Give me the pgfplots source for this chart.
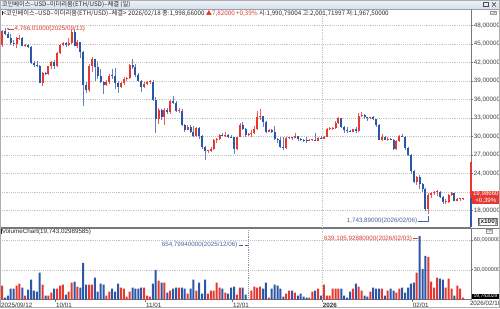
\documentclass[border=0pt]{standalone}
\usepackage{fontspec}
\setmainfont{Liberation Sans}
\newfontfamily\kr{Noto Sans CJK KR}
\usepackage{pgfplots}
\pgfplotsset{compat=1.18}
\usepackage{pgfplotstable}
\usetikzlibrary{arrows.meta}
\definecolor{cred}{RGB}{228,56,48}
\definecolor{cblue}{RGB}{44,86,166}
\definecolor{tred}{RGB}{214,62,52}
\definecolor{tblue}{RGB}{70,100,160}
\definecolor{gridc}{RGB}{195,195,195}
\definecolor{axc}{RGB}{120,120,120}
\definecolor{barA}{RGB}{240,244,250}
\definecolor{barB}{RGB}{212,223,238}
\newcommand\tf{\fontsize{4.7}{5.2}\selectfont}

\pgfplotstableread{
d o h l c v
0 4480 4730 4450 4715 14
1 4715 4766 4640 4668 2
2 4668 4700 4590 4604 4
3 4604 4660 4490 4523 11
4 4523 4560 4470 4499 11
5 4499 4620 4440 4590 14
6 4590 4640 4570 4600 16
7 4600 4610 4460 4470 12
8 4470 4500 4455 4480 4
9 4480 4495 4440 4450 10
10 4450 4460 4180 4200 20
11 4200 4230 4130 4165 9
12 4165 4230 4120 4150 8
13 4150 4160 3860 3870 27
14 3870 4040 3820 4030 15
15 4030 4040 3990 4015 4
16 4015 4150 4000 4140 4
17 4140 4230 4100 4215 7
18 4215 4240 4100 4145 11
19 4145 4370 4130 4350 11
20 4350 4500 4330 4485 14
21 4485 4540 4460 4515 15
22 4515 4530 4450 4480 5
23 4480 4600 4470 4515 8
24 4515 4750 4500 4690 17
25 4690 4750 4460 4460 18
26 4460 4560 4440 4525 13
27 4525 4530 4280 4370 12
28 4370 4390 3500 3830 37
29 3830 3880 3700 3750 15
30 3750 4170 3720 4150 15
31 4150 4290 4050 4250 15
32 4250 4260 3900 4125 22
33 4125 4220 3940 3980 8
34 3980 4090 3860 3890 16
35 3890 3900 3690 3835 15
36 3835 3910 3820 3890 4
37 3890 4020 3850 3985 8
38 3985 4090 3930 3980 11
39 3980 4110 3770 3875 8
40 3875 3900 3710 3805 16
41 3805 3880 3780 3860 12
42 3860 3960 3840 3935 11
43 3935 3960 3900 3950 3
44 3950 4170 3930 4160 8
45 4160 4250 4100 4120 12
46 4120 4170 3960 3990 11
47 3990 4030 3880 3900 11
48 3900 3920 3720 3810 12
49 3810 3890 3790 3850 12
50 3850 3900 3830 3880 4
51 3880 3920 3850 3890 3
52 3890 3910 3580 3600 16
53 3600 3640 3060 3290 30
54 3290 3460 3200 3430 19
55 3430 3440 3270 3315 17
56 3315 3460 3190 3430 17
57 3430 3460 3360 3400 7
58 3400 3590 3370 3575 9
59 3575 3650 3530 3550 11
60 3550 3570 3400 3410 12
61 3410 3470 3380 3420 12
62 3420 3440 3170 3190 12
63 3190 3200 3080 3110 11
64 3110 3180 3100 3150 6
65 3150 3180 3060 3080 11
66 3080 3170 3000 3005 20
67 3005 3160 2990 3140 9
68 3140 3160 2960 3010 17
69 3010 3030 2800 2830 6
70 2830 2850 2620 2765 20
71 2765 2790 2740 2770 6
72 2770 2830 2750 2800 9
73 2800 2960 2780 2950 9
74 2950 2970 2900 2960 17
75 2960 3040 2940 3020 12
76 3020 3060 3010 3015 11
77 3015 3070 3000 3030 7
78 3030 3040 2980 2990 6
79 2990 3020 2980 2985 12
80 2985 3000 2720 2800 13
81 2800 3000 2780 2995 5
82 2995 3220 2990 3190 12
83 3190 3240 3100 3130 12
84 3130 3140 3000 3020 5
85 3020 3060 3010 3040 0.065
86 3040 3100 2990 3060 9
87 3060 3170 3040 3120 13
88 3120 3420 3100 3320 12
89 3320 3440 3270 3325 13
90 3325 3330 3150 3240 11
91 3240 3260 3050 3080 17
92 3080 3130 3070 3110 2
93 3110 3120 3060 3070 11
94 3070 3170 2950 2960 15
95 2960 2980 2890 2945 14
96 2945 3000 2810 2830 11
97 2830 3000 2780 2820 3
98 2820 2990 2800 2975 6
99 2975 2990 2960 2980 9
100 2980 3000 2950 2975 9
101 2975 3060 2970 3005 7
102 3005 3010 2920 2965 4
103 2965 2970 2920 2945 6
104 2945 2960 2910 2930 3
105 2930 2990 2900 2925 2
106 2925 2960 2920 2945 2
107 2945 2960 2930 2950 8
108 2950 3050 2920 2935 9
109 2935 3000 2920 2970 11
110 2970 3010 2960 2965 4
111 2965 3010 2960 3000 15
112 3000 3140 2990 3120 4
113 3120 3150 3100 3125 4
114 3125 3160 3110 3140 11
115 3140 3260 3130 3225 11
116 3225 3310 3200 3295 11
117 3295 3300 3140 3160 11
118 3160 3170 3050 3105 4
119 3105 3150 3060 3085 2
120 3085 3100 3070 3080 8
121 3080 3130 3070 3120 11
122 3120 3160 3060 3095 16
123 3095 3380 3080 3325 13
124 3325 3400 3310 3350 9
125 3350 3360 3290 3315 4
126 3315 3320 3260 3300 3
127 3300 3320 3290 3310 8
128 3310 3340 3270 3280 12
129 3280 3290 3160 3190 11
130 3190 3200 2940 2950 11
131 2950 3040 2930 2985 11
132 2985 3010 2940 2950 4
133 2950 3000 2930 2955 9
134 2955 2970 2940 2950 11
135 2950 2955 2780 2800 9
136 2800 2940 2790 2925 7
137 2925 3030 2910 3010 11
138 3010 3040 2990 3000 12
139 3000 3010 2780 2815 7
140 2815 2830 2680 2700 12
141 2700 2720 2400 2440 16
142 2440 2460 2250 2270 17
143 2270 2360 2220 2340 27
144 2340 2370 2150 2230 63.91
145 2230 2250 2100 2150 31
146 2150 2160 1800 1830 44
147 1830 2080 1744 2060 43
148 2060 2100 2000 2090 18
149 2090 2120 2060 2100 12
150 2100 2130 2040 2105 22
151 2105 2110 2010 2020 21
152 2020 2030 1910 1940 20
153 1940 1990 1910 1945 12
154 1945 2070 1930 2050 21
155 2050 2100 2040 2085 11
156 2085 2090 1950 1960 4
157 1960 2000 1950 1990 14
158 1990 2000 1960 1990.84 11
159 1990.79 2001.72 1967.5 1998.66 1.97
}\ptab

\pgfplotsset{candle/.style={draw=none, mark=none, forget plot,
  error bars/.cd, y dir=plus, y explicit, error mark=none, error bar style={#1}}}

\begin{document}
\begin{tikzpicture}[font=\tf]
\useasboundingbox (0,0) rectangle (375pt,-231pt);
\fill[white] (0,0) rectangle (375pt,-231pt);
\shade[top color=barA, bottom color=barB] (0,0) rectangle (375pt,-6.75pt);
\draw[axc!70, line width=0.3pt] (0,-6.75pt) -- (375pt,-6.75pt);
\node[anchor=west, inner sep=0pt, font=\kr\tf, text=black!85] at (1.2pt,-3.3pt) {코인베이스–USD–이더리움(ETH/USD)–체결 (일)};
\draw[black!70, line width=0.45pt] (362.5pt,-1.7pt) rectangle (366pt,-5pt);
\draw[black!70, line width=0.5pt] (369pt,-1.8pt) -- (372pt,-4.9pt) (369pt,-4.9pt) -- (372pt,-1.8pt);

\begin{axis}[
 name=price,
 at={(0pt,-6.75pt)}, anchor=north west,
 scale only axis, width=353.25pt, height=163.5pt,
 xmin=-0.69, xmax=161.72, ymin=1534, ymax=5067,
 axis x line*=bottom, axis y line*=right,
 axis line style={-, draw=axc, line width=0.4pt},
 xtick=\empty,
 ytick={1800,2100,2400,2700,3000,3300,3600,3900,4200,4500,4800},
 yticklabels={{18,00000},{},{24,00000},{27,00000},{30,00000},{33,00000},{36,00000},{39,00000},{42,00000},{45,00000},{48,00000}},
 tick align=outside, major tick length=1.6pt,
 ytick style={draw=axc, line width=0.4pt},
 yticklabel style={font=\tf, text=black!75, inner xsep=0.4pt, anchor=west},
 ymajorgrids, grid style={draw=gridc, densely dotted, line width=0.35pt},
 clip mode=individual,
]
\draw[gridc, densely dotted, line width=0.35pt] (axis cs:110.5,1534) -- (axis cs:110.5,5067);
% wicks
\addplot[candle={draw=cred!80, line width=0.45pt}]
  table[x=d, y expr={\thisrow{c}>=\thisrow{o} ? \thisrow{l} : nan}, y error plus expr={\thisrow{h}-\thisrow{l}}] {\ptab};
\addplot[candle={draw=cblue!75, line width=0.45pt}]
  table[x=d, y expr={\thisrow{c}<\thisrow{o} ? \thisrow{l} : nan}, y error plus expr={\thisrow{h}-\thisrow{l}}] {\ptab};
% bodies
\addplot[candle={draw=cred, line width=1.5pt}]
  table[x=d, y expr={\thisrow{c}>=\thisrow{o} ? \thisrow{o} : nan}, y error plus expr={max(\thisrow{c}-\thisrow{o},14)}] {\ptab};
\addplot[candle={draw=cblue, line width=1.5pt}]
  table[x=d, y expr={\thisrow{c}<\thisrow{o} ? \thisrow{c} : nan}, y error plus expr={max(\thisrow{o}-\thisrow{c},14)}] {\ptab};
% max / min markers
\draw[tred, line width=0.4pt, -{Stealth[length=1.8pt,width=1.6pt]}] (axis cs:4.1,4745) -- (axis cs:1.6,4745);
\node[tred, anchor=west, inner sep=0.3pt] at (axis cs:4.1,4745) {4,766,01000(2025/09/13)};
\node[tblue, anchor=east, inner sep=0.3pt] at (axis cs:143.4,1631) {1,743,89000(2026/02/06)};
\draw[tblue, line width=0.4pt] (axis cs:143.5,1631) -- (axis cs:146.9,1631) -- (axis cs:146.9,1705);
% right-edge range marks
\draw[cred, line width=1.1pt] (axis cs:161.72,2588) -- (axis cs:161.72,1998.66);
\draw[cblue, line width=1.1pt] (axis cs:161.72,1998.66) -- (axis cs:161.72,1534);
\coordinate (cur) at (axis cs:161.72,2012);
\end{axis}

\begin{axis}[
 name=vol,
 at={(0pt,-171pt)}, anchor=north west,
 scale only axis, width=353.25pt, height=53.625pt,
 xmin=-0.69, xmax=161.72, ymin=0, ymax=72.1,
 axis x line*=bottom, axis y line*=right,
 axis line style={-, draw=axc, line width=0.4pt},
 xtick={-0.5,18.5,49.5,79.5,110.5,141.5},
 xticklabels={2025/09/12,10/01,11/01,12/01,\textbf{2026},02/01},
 xticklabel style={font=\tf, anchor=north west, inner xsep=0.2pt, inner ysep=0.6pt, text=black!80},
 ytick={30,60}, yticklabels={{30,000000},{60,000000}},
 tick align=outside, major tick length=1.6pt,
 tick style={draw=axc, line width=0.4pt},
 yticklabel style={font=\fontsize{4.2}{4.6}\selectfont, text=black!75, inner xsep=0.3pt, anchor=west},
 ymajorgrids, grid style={draw=gridc, densely dotted, line width=0.35pt},
 clip mode=individual,
]
\draw[gridc, densely dotted, line width=0.35pt] (axis cs:110.5,0) -- (axis cs:110.5,72.1);
\addplot[ybar, bar width=1.5pt, bar shift=0pt, fill=cred, draw=none]
  table[x=d, y expr={\thisrow{c}>=\thisrow{o} ? \thisrow{v} : nan}] {\ptab};
\addplot[ybar, bar width=1.5pt, bar shift=0pt, fill=cblue, draw=none]
  table[x=d, y expr={\thisrow{c}<\thisrow{o} ? \thisrow{v} : nan}] {\ptab};
\draw[axc!80, densely dotted, line width=0.4pt] (axis cs:85,0) -- (axis cs:85,72.1);
\node[tblue, anchor=east, inner sep=0.3pt] at (axis cs:81.4,55) {654,79940000(2025/12/06)};
\draw[tblue, densely dashed, line width=0.35pt] (axis cs:81.6,55) -- (axis cs:85,55);
\node[tred, anchor=east, inner sep=0.3pt] at (axis cs:141.6,61.5) {639,105,92880000(2026/02/03)};
\draw[tred, line width=0.4pt] (axis cs:141.7,61.5) -- (axis cs:143.6,61.5);
\node[anchor=north west, inner sep=0.5pt, text=black!85] at (rel axis cs:0,1) {\rule[-0.2pt]{0.7pt}{3.6pt}VolumeChart(19,743,02989585)};
\coordinate (vcur) at (axis cs:161.72,3);
\end{axis}

% separators, info line, boxes
\draw[axc, line width=0.4pt] (0,-171pt) -- (375pt,-171pt);
\node[anchor=west, inner sep=0pt, font=\kr\tf, text=black!85] at (1pt,-9.8pt) {\rule[-0.2pt]{0.7pt}{3.6pt}<코인베이스–USD–이더리움(ETH/USD)–체결> 2026/02/18 종:1,998,66000 \textcolor{tred}{▲7,82000 +0,39\%} 시:1,990,79004 고:2,001,71997 저:1,967,50000};
\node[draw=axc!70, fill=gray!10, inner sep=0.4pt, font=\fontsize{3.5}{4}\selectfont, text=black!70] at (370pt,-9.6pt) {□×};
\node[draw=axc!70, fill=gray!10, inner sep=0.4pt, font=\fontsize{3.5}{4}\selectfont, text=black!70] at (367pt,-173.5pt) {□×};
\node[fill=cred, text=white, anchor=west, inner sep=0.5pt, align=center, minimum width=21.5pt, font=\fontsize{4.6}{4.9}\selectfont] at ([xshift=0.2pt]cur) {19,98660\\+0,39\%};
\node[draw=axc, fill=white, inner sep=0.5pt, font=\fontsize{4.8}{5}\selectfont\bfseries, text=black!85] at (365.8pt,-166.3pt) {[x100]};
\node[fill=black, text=white, anchor=west, inner sep=0.4pt, minimum width=21pt, font=\fontsize{3.8}{4}\selectfont] at ([xshift=0.2pt]vcur) {19,743029};
\node[anchor=north west, inner sep=0.3pt, text=black!80] at (352pt,-225.3pt) {2026/02/18};
\draw[axc!60, line width=0.4pt] (0.2pt,-0.2pt) rectangle (374.8pt,-230.8pt);
\end{tikzpicture}
\end{document}
